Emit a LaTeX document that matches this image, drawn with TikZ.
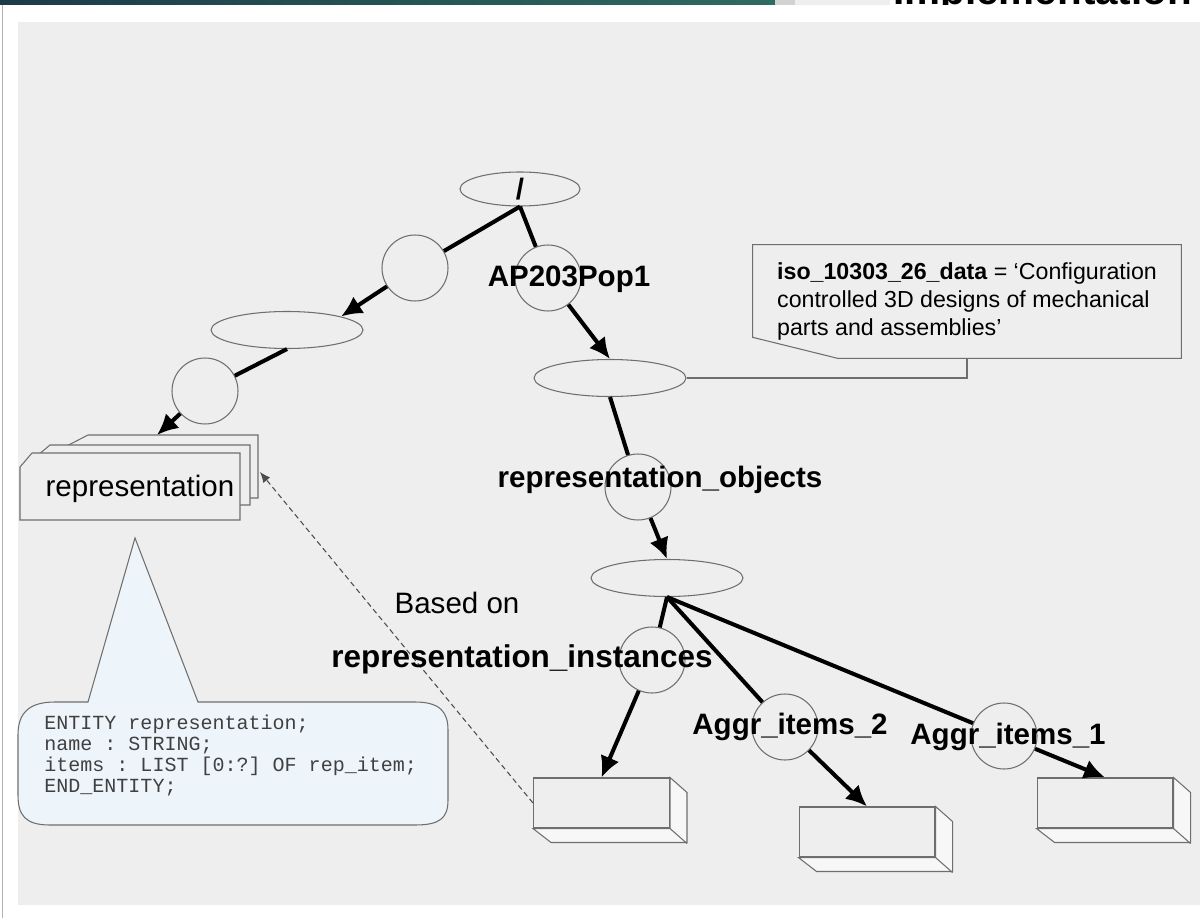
\documentclass[tikz,border=0pt]{standalone}
\usepackage{fontspec}
\setmainfont{Liberation Sans}
\setmonofont{Liberation Mono}
\usepackage{tikz}
\usetikzlibrary{shapes,arrows.meta,positioning}
\usepackage{xcolor}

\definecolor{fond}{HTML}{EEEEEE}
\definecolor{contourgris}{HTML}{6E6E6E}
\definecolor{bulle}{HTML}{EDF5FA}
\definecolor{bandeA}{HTML}{1C3B48}
\definecolor{bandeB}{HTML}{2E6B60}
\newcommand{\grandfont}{\fontsize{16.8}{20}\selectfont}
\newcommand{\notefont}{\fontsize{13.2}{16.2}\selectfont}
\newcommand{\codefont}{\ttfamily\fontsize{11.4}{11.95}\selectfont}

\begin{document}
\begin{tikzpicture}[x=0.02cm, y=-0.02cm]

    \tikzstyle{rond} = [
        circle,
        draw=contourgris,
        line width=0.6pt,
        minimum size=1.32cm,
        inner sep=0pt
    ]
    \tikzstyle{ovale} = [
        ellipse,
        draw=contourgris,
        line width=0.6pt,
        minimum width=3.04cm,
        minimum height=0.74cm,
        inner sep=0pt
    ]
    \tikzstyle{boite} = [
        rectangle,
        draw=contourgris,
        fill=fond,
        line width=0.6pt,
        minimum width=2.72cm,
        minimum height=1cm
    ]
    \tikzstyle{etiquette} = [
        font=\grandfont\bfseries,
        inner sep=0pt
    ]
    \tikzstyle{contour} = [
        draw=contourgris,
        line width=0.6pt
    ]
    \tikzstyle{trait} = [
        draw,
        line width=2.3pt
    ]
    \tikzstyle{line} = [
        draw,
        line width=2.3pt,
        -{Latex[length=0.42cm,width=0.4cm]}
    ]
    \tikzstyle{pointille} = [
        draw=black!70,
        line width=0.6pt,
        dash pattern=on 3pt off 2pt,
        -{Latex[length=6pt,width=5pt]}
    ]

    % fond de la diapositive
    \useasboundingbox (0,0) rectangle (1202,918);
    \fill[white] (0,0) rectangle (1202,918);
    \shade[left color=bandeA, right color=bandeB] (0,0) rectangle (775,5);
    \fill[gray!35] (775,0) rectangle (795,5);
    \fill[fond] (795,0) rectangle (890,5);
    \begin{scope}
        \clip (890,0) rectangle (1202,5);
        \node [anchor=base west, inner sep=0pt,
            font=\bfseries\fontsize{23}{26}\selectfont] (titre) at (893,5) {Implementation};
    \end{scope}
    \draw[gray!60] (2,5) -- (2,918);
    \fill[fond] (18,22) rectangle (1200,905);

    % pile de representations
    \draw[contour, fill=fond] (30,465) -- (88,435) -- (258,435) -- (258,498) -- (30,498) -- cycle;
    \draw[contour, fill=fond] (25,466) -- (50,445) -- (250,445) -- (250,505) -- (25,505) -- cycle;
    \draw[contour, fill=fond] (20,467) -- (32,453) -- (240,453) -- (240,520) -- (20,520) -- cycle;
    \node [inner sep=0pt, font=\grandfont] (rep) at (140,489) {representation};
    \coordinate (pile) at (157,435);
    \coordinate (pilecote) at (260,472);

    % bulle EXPRESS
    \draw[contour, fill=bulle] (135,538) -- (198,702) -- (415,702)
        .. controls (440,702) and (448,712) .. (448,730) -- (448,800)
        .. controls (448,818) and (440,825) .. (415,825) -- (50,825)
        .. controls (25,825) and (18,815) .. (18,795) -- (18,735)
        .. controls (18,712) and (30,702) .. (55,702) -- (88,702) -- cycle;
    \node [anchor=west, align=left, inner sep=0pt, text=black!75, font=\codefont]
        (code) at (44,756) {ENTITY representation;\\
        name : STRING;\\
        items : LIST [0:?] OF rep\_item;\\
        END\_ENTITY;};

    % arbre
    \node [ovale, minimum width=2.4cm, minimum height=0.68cm,
        font=\grandfont\bfseries] (root) at (520,189) {/};
    \node [rond]  (c1)   at (415,268) {};
    \node [ovale] (e1)   at (287,330) {};
    \node [rond]  (c2)   at (205,391) {};
    \node [rond]  (cap)  at (548,278) {};
    \node [ovale] (e2)   at (610,378) {};
    \node [rond]  (cobj) at (638,487) {};
    \node [ovale] (e3)   at (667,578) {};
    \node [rond]  (cri)  at (652,660) {};
    \node [rond]  (cag2) at (785,727) {};
    \node [rond]  (cag1) at (1004,736) {};

    \node [boite] (box1) at (601.5,803) {};
    \node [boite] (box2) at (867,832) {};
    \node [boite] (box3) at (1105,803) {};
    \foreach \b in {box1,box2,box3}{
        \draw[contour, fill=white!55!fond] (\b.north east) -- ++(17,15) -- ++(0,50)
            -- ++(-136,0) -- (\b.south west) -- (\b.south east) -- cycle;
        \draw[contour] (\b.south east) -- ++(17,15);
    }

    % note
    \node [minimum width=8.56cm, minimum height=2.26cm, align=left, font=\notefont]
        (note) at (967,301.5) {{\bfseries iso\_10303\_26\_data} = ‘Configuration\\
        controlled 3D designs of mechanical\\
        parts and assemblies’};
    \draw[contour] (note.north west) -- (note.north east) -- (note.south east)
        -- ([xshift=1.7cm]note.south west) -- ([yshift=0.42cm]note.south west) -- cycle;
    \draw[contour] (e2.east) -| (note.south);

    \path [trait] (root.south) -- (c1);
    \path [line]  (c1) -- (e1.14);
    \path [trait] (e1.south) -- (c2);
    \path [line]  (c2) -- (pile);
    \path [trait] (root.south) -- (cap);
    \path [line]  (cap) -- (e2.north);
    \path [trait] (e2.south) -- (cobj);
    \path [line]  (cobj) -- (e3.north);
    \path [trait] (e3.south) -- (cri);
    \path [line]  (cri) -- (box1.north);
    \path [trait] (e3.south) -- (cag2);
    \path [line]  (cag2) -- (box2.north);
    \path [trait] (e3.south) -- (cag1);
    \path [line]  (cag1) -- (box3.north);
    \path [pointille] (box1.west) -- (pilecote);

    % etiquettes
    \node [etiquette] (lcap)  at (569,279) {AP203Pop1};
    \node [etiquette] (lobj)  at (660,480) {representation\_objects};
    \node [etiquette, font=\fontsize{17.9}{21}\selectfont\bfseries]
        (lri) at (522,659) {representation\_instances};
    \node [etiquette] (lag2)  at (790,727) {Aggr\_items\_2};
    \node [etiquette] (lag1)  at (1008,737) {Aggr\_items\_1};
    \node [inner sep=0pt, font=\grandfont] (based) at (457,603) {Based on};

\end{tikzpicture}
\end{document}
